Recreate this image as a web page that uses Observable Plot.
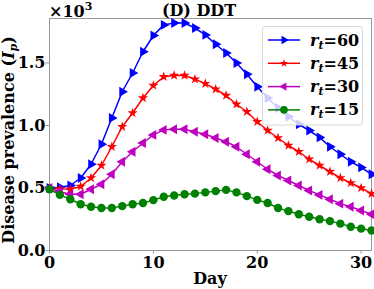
<!DOCTYPE html>
<html>
<head>
<meta charset="utf-8">
<script src="https://cdn.jsdelivr.net/npm/d3@7"></script>
<script src="https://cdn.jsdelivr.net/npm/@observablehq/plot@0.6"></script>
<style>
  html, body { margin: 0; padding: 0; background: white; }
</style>
</head>
<body>
<div id="chart"></div>
<script>
const days = d3.range(0, 32);
const seriesNames = ["rt=60", "rt=45", "rt=30", "rt=15"];
const seriesLabels = ["60", "45", "30", "15"];
const seriesColors = ["#0000ff", "#ff0000", "#bf00bf", "#008000"];
const seriesSymbols = ["triangle", "star", "triangle", "circle"];
const seriesRotate = [90, 0, -90, 0];
const xTicks = [0, 10, 20, 30];
const yTicks = [0, 0.5, 1.0, 1.5];

const r60 = [0.50, 0.506, 0.52, 0.58, 0.69, 0.85, 1.06, 1.27, 1.42, 1.59, 1.72,
  1.805, 1.82, 1.82, 1.78, 1.725, 1.65, 1.58, 1.50, 1.41, 1.31,
  1.22, 1.14, 1.07, 1.01, 0.96, 0.905, 0.83, 0.77, 0.71, 0.665, 0.61];
const r45 = [0.50, 0.493, 0.49, 0.512, 0.58, 0.68, 0.83, 0.99, 1.10, 1.22, 1.32,
  1.39, 1.40, 1.40, 1.37, 1.335, 1.29, 1.24, 1.17, 1.11, 1.03,
  0.96, 0.90, 0.84, 0.79, 0.73, 0.68, 0.63, 0.58, 0.54, 0.50, 0.455];
const r30 = [0.50, 0.47, 0.45, 0.45, 0.49, 0.53, 0.61, 0.71, 0.79, 0.86, 0.925,
  0.965, 0.97, 0.97, 0.95, 0.93, 0.90, 0.87, 0.83, 0.77, 0.71,
  0.65, 0.60, 0.56, 0.52, 0.48, 0.445, 0.41, 0.375, 0.35, 0.32, 0.29];
const r15 = [0.49, 0.445, 0.41, 0.37, 0.35, 0.34, 0.34, 0.355, 0.37, 0.38, 0.403,
  0.43, 0.44, 0.45, 0.455, 0.465, 0.475, 0.485, 0.465, 0.435, 0.405,
  0.38, 0.34, 0.315, 0.29, 0.27, 0.25, 0.235, 0.215, 0.19, 0.175, 0.16];
const seriesValues = [r60, r45, r30, r15];

const rows = [];
seriesNames.forEach((s, i) => {
  days.forEach((d, j) => rows.push({day: d, v: seriesValues[i][j], series: s}));
});

const serif = "'DejaVu Serif', serif";
const markerR = {triangle: 3.7, star: 3.2, circle: 4.2};
const legendR = {triangle: 3.1, star: 2.5, circle: 3.8};

const dotMarks = seriesNames.map((s, i) =>
  Plot.dot(rows.filter(d => d.series === s), {
    x: "day", y: "v", symbol: () => seriesSymbols[i], fill: seriesColors[i], stroke: "none",
    r: markerR[seriesSymbols[i]], rotate: seriesRotate[i]
  })
);

const chart = Plot.plot({
  width: 374,
  height: 289,
  marginLeft: 49,
  marginRight: 3,
  marginTop: 18,
  marginBottom: 39,
  style: {fontFamily: serif, fontWeight: "bold", fontSize: "16px", color: "black", background: "white", overflow: "visible"},
  x: {domain: [0, 31], label: null},
  y: {domain: [0, 1.856], label: null},
  color: {domain: seriesNames, range: seriesColors},
  symbol: {type: "identity"},
  marks: [
    Plot.frame({stroke: "#999", strokeWidth: 1}),
    Plot.axisX({ticks: xTicks, tickFormat: d3.format("d"), tickSize: 3.5, tickPadding: 3, stroke: "#999", fill: "black", fontSize: 16, fontWeight: "bold", label: null}),
    Plot.axisY({ticks: yTicks, tickFormat: d3.format(".1f"), tickSize: 3.5, tickPadding: 0.5, stroke: "#999", fill: "black", fontSize: 16, fontWeight: "bold", label: null}),
    Plot.line(rows, {x: "day", y: "v", z: "series", stroke: "series", strokeWidth: 1.5}),
    ...dotMarks
  ]
});

document.getElementById("chart").appendChild(chart);

const svg = d3.select(chart);
// title
svg.append("text").attr("x", 199).attr("y", 16).attr("text-anchor", "middle")
  .attr("font-family", serif).attr("font-weight", "bold").attr("font-size", 16).text("(D) DDT");
// offset text
const off = svg.append("text").attr("x", 49).attr("y", 17).attr("text-anchor", "start")
  .attr("font-family", serif).attr("font-weight", "bold").attr("font-size", 16);
off.append("tspan").text("\u00d710");
off.append("tspan").attr("font-size", 11).attr("dy", -7).text("3");
// x label
svg.append("text").attr("x", 210).attr("y", 284).attr("text-anchor", "middle")
  .attr("font-family", serif).attr("font-weight", "bold").attr("font-size", 16).text("Day");
// y label
const yl = svg.append("text").attr("transform", "translate(14,140) rotate(-90)").attr("text-anchor", "middle")
  .attr("font-family", serif).attr("font-weight", "bold").attr("font-size", 16);
yl.append("tspan").text("Disease prevalence (");
yl.append("tspan").attr("font-style", "italic").text("I");
yl.append("tspan").attr("font-style", "italic").attr("font-size", 11).attr("dy", 3).text("p");
yl.append("tspan").attr("dy", -3).text(")");

// legend
const lg = svg.append("g");
lg.append("rect").attr("x", 262.5).attr("y", 26.5).attr("width", 100).attr("height", 98.5).attr("rx", 3)
  .attr("fill", "white").attr("fill-opacity", 0.8).attr("stroke", "#d8d8d8");
const symMap = {triangle: d3.symbolTriangle, star: d3.symbolStar, circle: d3.symbolCircle};
seriesNames.forEach((s, i) => {
  const y = 40 + i * 23.3;
  const sym = seriesSymbols[i];
  lg.append("line").attr("x1", 268).attr("x2", 300).attr("y1", y).attr("y2", y)
    .attr("stroke", seriesColors[i]).attr("stroke-width", 1.5);
  lg.append("path").attr("d", d3.symbol(symMap[sym], legendR[sym] * legendR[sym] * Math.PI)())
    .attr("transform", `translate(284,${y}) rotate(${seriesRotate[i]})`).attr("fill", seriesColors[i]);
  const t = lg.append("text").attr("x", 310).attr("y", y + 5.5).attr("text-anchor", "start")
    .attr("font-family", serif).attr("font-weight", "bold").attr("font-size", 16);
  t.append("tspan").attr("font-style", "italic").text("r");
  t.append("tspan").attr("font-style", "italic").attr("font-size", 11).attr("dy", 3).text("t");
  t.append("tspan").attr("dy", -3).text("=" + seriesLabels[i]);
});
</script>
</body>
</html>
